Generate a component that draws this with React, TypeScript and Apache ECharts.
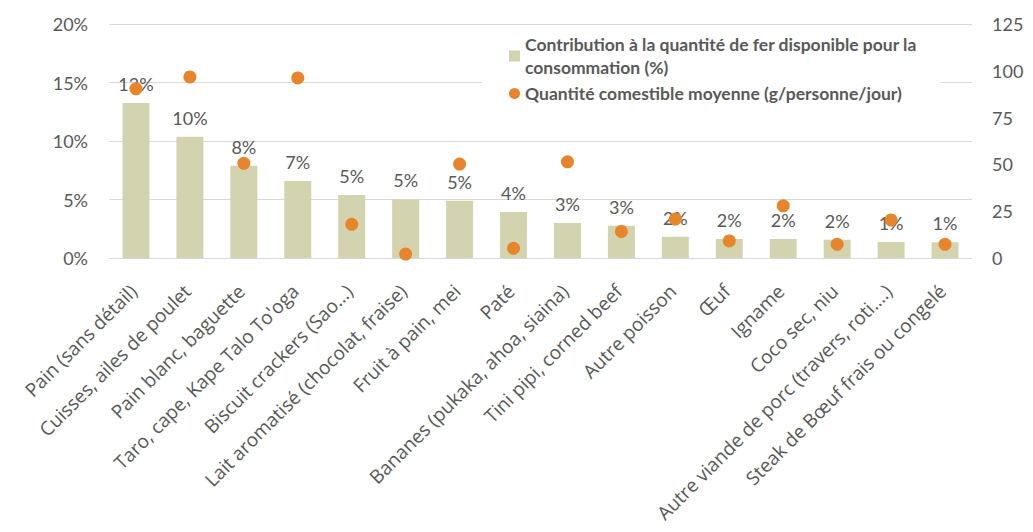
import React, { useEffect, useRef } from "react";
import * as echarts from "echarts";

const categories = [
  "Pain (sans détail)",
  "Cuisses, ailes de poulet",
  "Pain blanc, baguette",
  "Taro, cape, Kape Talo To'oga",
  "Biscuit crackers (Sao…)",
  "Lait aromatisé (chocolat, fraise)",
  "Fruit à pain, mei",
  "Paté",
  "Bananes (pukaka, ahoa, siaina)",
  "Tini pipi, corned beef",
  "Autre poisson",
  "Œuf",
  "Igname",
  "Coco sec, niu",
  "Autre viande de porc (travers, roti….)",
  "Steak de Bœuf frais ou congelé",
];

const contributionPct = [
  13.25, 10.37, 7.89, 6.58, 5.38, 5.01, 4.9, 3.93, 2.99, 2.76, 1.82, 1.62, 1.62, 1.56, 1.37, 1.34,
];

const quantite = [
  90.4, 96.7, 50.6, 96.2, 18.0, 2.1, 50.2, 5.2, 51.4, 14.2, 20.8, 9.1, 27.9, 7.3, 20.3, 7.3,
];

const leftTicks = [0, 5, 10, 15, 20];
const rightTicks = [0, 25, 50, 75, 100, 125];

const barName = "Contribution à la quantité de fer disponible pour la consommation (%)";
const dotName = "Quantité comestible moyenne (g/personne/jour)";

const FONT = "Lato";
const CAT_FONT = "Open Sans";
const TEXT = "#595959";
const BAR = "#d3d3b0";
const ORANGE = "#e8842a";

export default function App() {
  const ref = useRef<HTMLDivElement>(null);
  useEffect(() => {
    if (!ref.current) return;
    const chart = echarts.init(ref.current, undefined, { renderer: "svg" });
    chart.setOption({
      animation: false,
      textStyle: { fontFamily: FONT },
      grid: {
        left: 109,
        right: 61,
        top: 24,
        bottom: 274,
        containLabel: false,
        outerBoundsMode: "none",
      },
      legend: {
        orient: "vertical",
        left: 482,
        top: 27,
        padding: [6, 24, 12, 27],
        backgroundColor: "#ffffff",
        itemWidth: 11,
        itemHeight: 11,
        itemGap: 3,
        data: [
          { name: barName, icon: "rect" },
          { name: dotName, icon: "circle" },
        ],
        formatter: (n: string) =>
          n === barName
            ? "Contribution à la quantité de fer disponible pour la\nconsommation (%)"
            : n,
        textStyle: {
          fontFamily: FONT,
          fontSize: 17.5,
          fontWeight: "bold",
          color: TEXT,
          lineHeight: 23,
        },
      },
      xAxis: {
        type: "category",
        data: categories,
        axisLine: { show: false },
        axisTick: { show: false },
        axisLabel: {
          rotate: 45,
          interval: 0,
          margin: 14,
          verticalAlign: "top",
          padding: [0, 13, 0, 0],
          fontFamily: CAT_FONT,
          fontSize: 19,
          color: TEXT,
        },
      },
      yAxis: [
        {
          type: "value",
          min: leftTicks[0],
          max: leftTicks[leftTicks.length - 1],
          interval: 5,
          axisLine: { show: false },
          axisTick: { show: false },
          splitLine: { lineStyle: { color: "#d9d9d9", width: 1 } },
          axisLabel: {
            formatter: "{value}%",
            margin: 21,
            fontFamily: FONT,
            fontSize: 18,
            color: TEXT,
          },
        },
        {
          type: "value",
          min: rightTicks[0],
          max: rightTicks[rightTicks.length - 1],
          interval: 25,
          position: "right",
          axisLine: { show: false },
          axisTick: { show: false },
          splitLine: { show: false },
          axisLabel: {
            margin: 20,
            fontFamily: FONT,
            fontSize: 18,
            color: TEXT,
          },
        },
      ],
      series: [
        {
          name: barName,
          type: "bar",
          yAxisIndex: 0,
          data: contributionPct,
          barWidth: "50%",
          itemStyle: { color: BAR },
          z: 2,
          label: {
            show: true,
            position: "top",
            distance: 10,
            fontFamily: FONT,
            fontSize: 18,
            color: TEXT,
            formatter: (p: any) => Math.round(p.value) + "%",
          },
        },
        {
          name: dotName,
          type: "scatter",
          yAxisIndex: 1,
          data: quantite,
          symbol: "circle",
          symbolSize: 13,
          itemStyle: { color: ORANGE, opacity: 1 },
          z: 4,
        },
      ],
    });
    return () => chart.dispose();
  }, []);
  return (
    <div
      ref={ref}
      style={{ position: "absolute", left: 0, top: 0, width: 1033, height: 532 }}
    />
  );
}
